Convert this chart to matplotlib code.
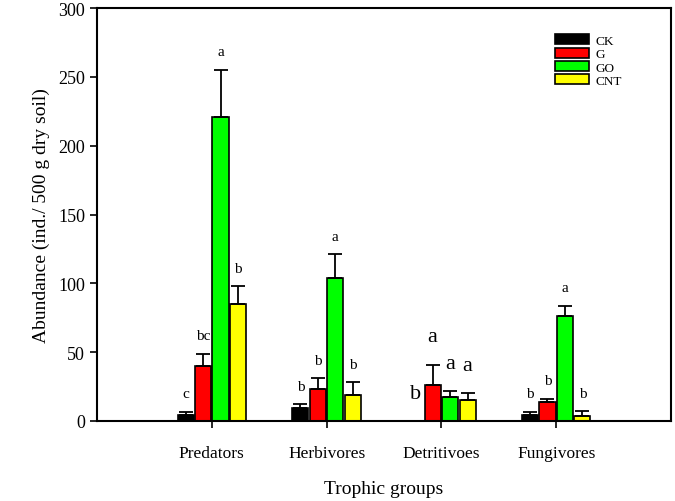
import numpy as np
import matplotlib
matplotlib.use('Agg')
import matplotlib.pyplot as plt

plt.rcParams['font.family'] = ['Liberation Serif', 'DejaVu Serif']

groups = ['Predators', 'Herbivores', 'Detritivoes', 'Fungivores']
treatments = ['CK', 'G', 'GO', 'CNT']
colors = ['#000000', '#ff0000', '#00ff00', '#ffff00']

# mean abundance per treatment (rows) and trophic group (columns)
means = {
    'CK':  [4.0, 9.4, 0.0, 4.0],
    'G':   [40.0, 23.0, 26.5, 14.0],
    'GO':  [221.0, 104.0, 17.5, 76.5],
    'CNT': [85.0, 19.0, 15.5, 3.6],
}
errs = {
    'CK':  [2.5, 2.6, 0.0, 2.5],
    'G':   [8.7, 8.0, 14.5, 2.2],
    'GO':  [34.0, 17.0, 4.3, 7.0],
    'CNT': [13.0, 9.0, 4.8, 3.6],
}
letters = {
    'CK':  ['c', 'b', 'b', 'b'],
    'G':   ['bc', 'b', 'a', 'b'],
    'GO':  ['a', 'a', 'a', 'a'],
    'CNT': ['b', 'b', 'a', 'b'],
}
big_letter_group = 'Detritivoes'

fig = plt.figure(figsize=(6.75, 5.02), dpi=100)
ax = fig.add_axes([97/675, 80/502, 574/675, 413/502])

x = np.arange(1, len(groups) + 1)
width = 0.14
step = 0.152
for i, t in enumerate(treatments):
    pos = x + (i - 1.5) * step
    m = np.array(means[t])
    e = np.array(errs[t])
    ax.bar(pos, m, width, color=colors[i], edgecolor='black', linewidth=1.2,
           label=t, zorder=2)
    ax.errorbar(pos, m, yerr=[np.zeros_like(e), e], fmt='none', ecolor='black',
                elinewidth=1.3, capsize=5, capthick=1.3, zorder=3)
    for j, g in enumerate(groups):
        top = m[j] + e[j]
        if g == big_letter_group:
            ax.annotate(letters[t][j], (pos[j], top), xytext=(0, 20),
                        textcoords='offset points', ha='center', va='center',
                        fontsize=16)
        else:
            ax.annotate(letters[t][j], (pos[j], top), xytext=(0, 13),
                        textcoords='offset points', ha='center', va='center',
                        fontsize=11)

ax.set_xlim(0, 5)
ax.set_ylim(0, 300)
ax.set_xticks(x)
ax.set_xticklabels(groups, fontsize=12.5)
ax.set_yticks(np.arange(0, 301, 50))
ax.tick_params(axis='y', labelsize=13, direction='out', length=5, width=1.2)
ax.tick_params(axis='x', direction='out', length=5, width=1.2, pad=12)
for s in ax.spines.values():
    s.set_linewidth(1.5)

ax.set_xlabel('Trophic groups', fontsize=14, labelpad=14)
ax.set_ylabel('Abundance (ind./ 500 g dry soil)', fontsize=14, labelpad=6)

leg = ax.legend(loc='upper right', bbox_to_anchor=(0.935, 0.965), frameon=False,
                fontsize=9.5, handlelength=2.6, handleheight=0.8,
                handletextpad=0.5, labelspacing=0.05)

fig.savefig('out.png', dpi=100)
